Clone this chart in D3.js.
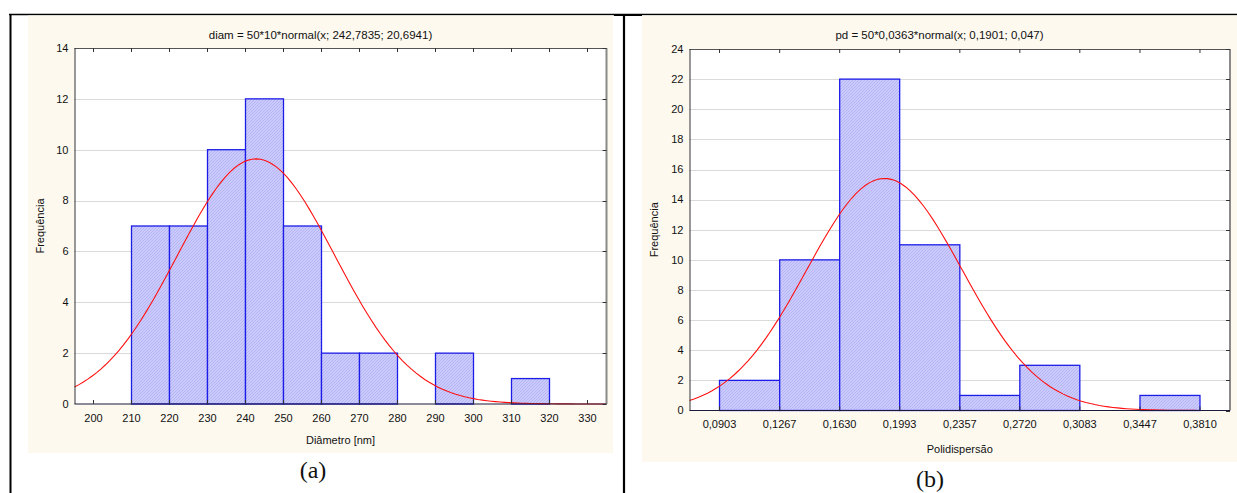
<!DOCTYPE html>
<html>
<head>
<meta charset="utf-8">
<script src="https://cdn.jsdelivr.net/npm/d3@7"></script>
<style>
  html, body { margin: 0; padding: 0; background: #ffffff; }
  svg { display: block; }
  text { font-family: "Liberation Sans", Arial, sans-serif; fill: #111; }
</style>
</head>
<body>
<svg id="fig" width="1237" height="493"></svg>
<script>
// Diameter histogram (nm): bin edges, counts, axis ticks
const diamEdges  = [210, 220, 230, 240, 250, 260, 270, 280, 290, 300, 310, 320];
const diamCounts = [7, 7, 10, 12, 7, 2, 2, 0, 2, 0, 1];
const diamTicks  = [200, 210, 220, 230, 240, 250, 260, 270, 280, 290, 300, 310, 320, 330];
const diamYTicks = [0, 2, 4, 6, 8, 10, 12, 14];
// fitted normal: n, bin width, mean, sd
const diamFit    = [50, 10, 242.7835, 20.6941];

// Polydispersity histogram: bin edges, counts, tick labels
const pdEdges      = [0.0903, 0.1267, 0.1630, 0.1993, 0.2357, 0.2720, 0.3083, 0.3447, 0.3810];
const pdCounts     = [2, 10, 22, 11, 1, 3, 0, 1];
const pdTickLabels = ["0,0903", "0,1267", "0,1630", "0,1993", "0,2357", "0,2720", "0,3083", "0,3447", "0,3810"];
const pdYTicks     = [0, 2, 4, 6, 8, 10, 12, 14, 16, 18, 20, 22, 24];
const pdFit        = [50, 0.0363, 0.1901, 0.047];

const svg = d3.select("#fig");

// hatch fill used by the bars
const defs = svg.append("defs");
const pat = defs.append("pattern")
  .attr("id", "hatch").attr("patternUnits", "userSpaceOnUse")
  .attr("width", 3).attr("height", 3);
pat.append("rect").attr("width", 3).attr("height", 3).attr("fill", "#cacafc");
pat.append("path").attr("d", "M-1,1 l2,-2 M0,3 l3,-3 M2,4 l2,-2")
  .attr("stroke", "#b0b0f2").attr("stroke-width", 0.8);

// page frame lines
svg.append("line").attr("x1", 9).attr("x2", 1237).attr("y1", 14.5).attr("y2", 14.5)
  .attr("stroke", "#000").attr("stroke-width", 1.3);
svg.append("line").attr("x1", 614).attr("x2", 642).attr("y1", 15).attr("y2", 15)
  .attr("stroke", "#000").attr("stroke-width", 2);
svg.append("line").attr("x1", 10.5).attr("x2", 10.5).attr("y1", 14).attr("y2", 493)
  .attr("stroke", "#000").attr("stroke-width", 2);
svg.append("line").attr("x1", 624).attr("x2", 624).attr("y1", 14).attr("y2", 493)
  .attr("stroke", "#000").attr("stroke-width", 2.2);

function normalPdf(x, mu, sd) {
  const z = (x - mu) / sd;
  return Math.exp(-0.5 * z * z) / (sd * Math.sqrt(2 * Math.PI));
}

function drawPanel(o) {
  const g = svg.append("g");
  // panel background
  g.append("rect").attr("x", o.bg[0]).attr("y", o.bg[1]).attr("width", o.bg[2]).attr("height", o.bg[3])
    .attr("fill", "#fdf9ef");

  const x = d3.scaleLinear().domain(o.xDomain).range([o.plot.l, o.plot.r]);
  const y = d3.scaleLinear().domain(o.yDomain).range([o.plot.b, o.plot.t]);

  // plot area
  g.append("rect").attr("x", o.plot.l).attr("y", o.plot.t)
    .attr("width", o.plot.r - o.plot.l).attr("height", o.plot.b - o.plot.t).attr("fill", "#fff");

  // horizontal dotted grid
  g.append("g").selectAll("line").data(o.yTicks.slice(1, -1)).join("line")
    .attr("x1", o.plot.l).attr("x2", o.plot.r)
    .attr("y1", d => Math.round(y(d)) + 0.5).attr("y2", d => Math.round(y(d)) + 0.5)
    .attr("stroke", "#b4b4b4").attr("stroke-width", 1).attr("stroke-dasharray", "1,1");

  // bars
  const bins = o.counts.map((c, i) => ({ x0: o.edges[i], x1: o.edges[i + 1], c }));
  g.append("g").selectAll("rect").data(bins.filter(b => b.c > 0)).join("rect")
    .attr("x", d => x(d.x0)).attr("y", d => y(d.c))
    .attr("width", d => x(d.x1) - x(d.x0)).attr("height", d => y(0) - y(d.c))
    .attr("fill", "url(#hatch)").attr("stroke", "#1c1ce8").attr("stroke-width", 1.3);

  // fitted normal curve (parameters as in the title)
  const [n, w, mu, sd] = o.fit;
  const xs = d3.range(0, 121).map(i => o.xDomain[0] + (o.xDomain[1] - o.xDomain[0]) * i / 120);
  const line = d3.line().x(d => x(d)).y(d => y(n * w * normalPdf(d, mu, sd)));
  g.append("path").datum(xs).attr("d", line)
    .attr("fill", "none").attr("stroke", "#ff1010").attr("stroke-width", 1.1);

  // frame
  g.append("line").attr("x1", o.plot.l).attr("x2", o.plot.r).attr("y1", o.plot.t + 0.5).attr("y2", o.plot.t + 0.5)
    .attr("stroke", "#555").attr("stroke-width", 1);
  g.append("line").attr("x1", o.plot.r).attr("x2", o.plot.r).attr("y1", o.plot.t).attr("y2", o.plot.b)
    .attr("stroke", "#8a8a8a").attr("stroke-width", 2);
  g.append("line").attr("x1", o.plot.l + 0.5).attr("x2", o.plot.l + 0.5).attr("y1", o.plot.t).attr("y2", o.plot.b)
    .attr("stroke", "#333").attr("stroke-width", 1);
  g.append("line").attr("x1", o.plot.l).attr("x2", o.plot.r).attr("y1", o.plot.b).attr("y2", o.plot.b)
    .attr("stroke", "#1a1a3a").attr("stroke-width", 1.2);

  // inner tick marks on all four sides
  const tk = 4;
  g.append("g").selectAll("line").data(o.xTicks).join("line")
    .attr("x1", d => x(d)).attr("x2", d => x(d)).attr("y1", o.plot.t).attr("y2", o.plot.t + tk)
    .attr("stroke", "#333");
  g.append("g").selectAll("line").data(o.xTicks).join("line")
    .attr("x1", d => x(d)).attr("x2", d => x(d)).attr("y1", o.plot.b).attr("y2", o.plot.b - tk)
    .attr("stroke", "#333");
  g.append("g").selectAll("line").data(o.yTicks).join("line")
    .attr("x1", o.plot.r).attr("x2", o.plot.r - tk)
    .attr("y1", d => Math.round(y(d)) + 0.5).attr("y2", d => Math.round(y(d)) + 0.5)
    .attr("stroke", "#333");

  // y tick labels
  g.append("g").selectAll("text").data(o.yTicks).join("text")
    .attr("x", o.plot.l - 6).attr("y", d => y(d)).attr("dy", "0.35em")
    .attr("text-anchor", "end").attr("font-size", 11).text(d => d);

  // x tick labels
  g.append("g").selectAll("text").data(o.xTicks).join("text")
    .attr("x", d => x(d)).attr("y", o.plot.b + 14).attr("dy", "0.35em")
    .attr("text-anchor", "middle").attr("font-size", 11).text((d, i) => o.xLabels[i]);

  // title and axis titles
  g.append("text").attr("x", o.bg[0] + o.bg[2] / 2).attr("y", o.titleY)
    .attr("text-anchor", "middle").attr("font-size", 11.5).text(o.title);
  g.append("text").attr("x", (o.plot.l + o.plot.r) / 2).attr("y", o.xTitleY)
    .attr("text-anchor", "middle").attr("font-size", 11).text(o.xTitle);
  g.append("text").attr("transform", `translate(${o.yTitleX},${(o.plot.t + o.plot.b) / 2}) rotate(-90)`)
    .attr("text-anchor", "middle").attr("font-size", 11).text("Frequência");

  // panel caption
  g.append("text").attr("x", o.capX).attr("y", o.capY)
    .attr("text-anchor", "middle").attr("font-size", 24)
    .style("font-family", "'Liberation Serif', 'Times New Roman', serif").text(o.caption);
}

drawPanel({
  bg: [28, 15.5, 585, 437.5],
  plot: { l: 74.5, t: 48, r: 606.5, b: 404 },
  xDomain: [195, 335], yDomain: [0, 14],
  edges: diamEdges, counts: diamCounts, fit: diamFit,
  xTicks: diamTicks, xLabels: diamTicks.map(String), yTicks: diamYTicks,
  title: "diam = 50*10*normal(x; 242,7835; 20,6941)",
  titleY: 39, xTitle: "Diâmetro [nm]", xTitleY: 444, yTitleX: 44,
  caption: "(a)", capX: 313, capY: 478
});

const pdHalf = (pdEdges[pdEdges.length - 1] - pdEdges[0]) / (pdEdges.length - 1) / 2;
drawPanel({
  bg: [642, 15.5, 595, 446.5],
  plot: { l: 689.5, t: 49, r: 1230, b: 410.5 },
  xDomain: [pdEdges[0] - pdHalf, pdEdges[pdEdges.length - 1] + pdHalf], yDomain: [0, 24],
  edges: pdEdges, counts: pdCounts, fit: pdFit,
  xTicks: pdEdges, xLabels: pdTickLabels, yTicks: pdYTicks,
  title: "pd = 50*0,0363*normal(x; 0,1901; 0,047)",
  titleY: 39, xTitle: "Polidispersão", xTitleY: 453, yTitleX: 658,
  caption: "(b)", capX: 930, capY: 487
});
</script>
</body>
</html>
